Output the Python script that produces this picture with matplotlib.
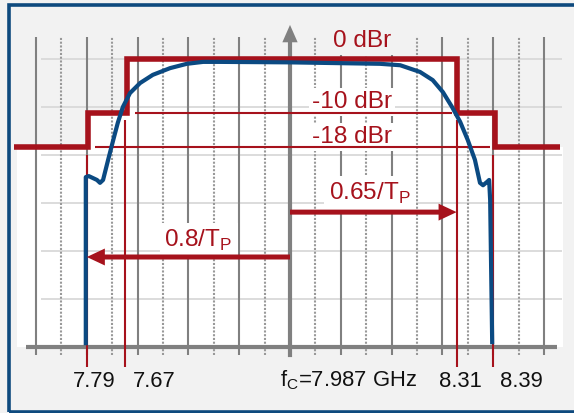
import numpy as np
import matplotlib
matplotlib.use("Agg")
from matplotlib import pyplot as plt
from matplotlib import font_manager
from matplotlib.patches import FancyArrowPatch, Rectangle, ArrowStyle

# pick a narrow sans like the original, fall back if it is missing
installed = {f.name for f in font_manager.fontManager.ttflist}
if "Liberation Sans Narrow" in installed:
    FONT, SCALE = "Liberation Sans Narrow", 1.0
else:
    FONT, SCALE = "Liberation Sans", 0.88
plt.rcParams["font.family"] = [FONT, "DejaVu Sans"]
plt.rcParams["mathtext.fontset"] = "custom"
plt.rcParams["mathtext.rm"] = FONT

RED = "#a6121c"
BLUE = "#0b4a82"
GRAY = "#808080"
BG = "#f2f2f2"

# x in grid divisions from f_C, y in grid rows above the axis
grid_major = np.arange(-5, 6)
grid_minor = np.arange(-4.5, 5, 1.0)
grid_rows = np.arange(1, 7)

# spectral mask (0 / -10 / -18 dBr)
mask_edges = [-5.43, -3.97, -3.2, 3.28, 4.03, 5.31]
mask_levels = [4.16, 4.88, 6.0, 4.88, 4.16]
fill_edges = [-5.37, -3.97, -3.2, 3.28, 4.03, 5.37]

# dBr labels
dbr_labels = ["0 dBr", "-10 dBr", "-18 dBr"]
dbr_x = [1.42, 1.22, 1.22]
dbr_y = [6.25, 4.98, 4.25]
ref_levels = [4.88, 4.16]
ref_x0 = [-3.05, -3.84]
ref_x1 = [3.19, 3.94]

# frequency markers
marker_x = [-4.0, -3.24, 3.28, 4.0]
marker_top = [4.0, 4.73, 4.73, 4.0]
tick_labels = ["7.79", "7.67", r"f$_\mathrm{C}$=7.987 GHz", "8.31", "8.39"]
tick_x = [-3.85, -2.68, 1.16, 3.35, 4.56]

# measured spectrum
spec_x = [-4.02, -4.02, -3.96, -3.88, -3.80, -3.74, -3.68, -3.58, -3.48, -3.39,
          -3.29, -3.15, -2.95, -2.70, -2.36, -2.03, -1.71, -1.38, 0.0, 1.77,
          2.17, 2.56, 2.81, 3.01, 3.19, 3.35, 3.50, 3.64, 3.74, 3.80,
          3.88, 3.92, 3.94, 3.98]
spec_y = [0.08, 3.54, 3.56, 3.52, 3.48, 3.42, 3.48, 3.90, 4.31, 4.67,
          5.00, 5.29, 5.50, 5.67, 5.81, 5.90, 5.94, 5.94, 5.93, 5.90,
          5.87, 5.73, 5.56, 5.31, 5.00, 4.69, 4.31, 3.90, 3.42, 3.37,
          3.44, 3.48, 3.06, 0.10]

# bandwidth arrows
bw_labels = [r"0.65/T$_\mathrm{P}$", r"0.8/T$_\mathrm{P}$"]
bw_end = [3.28, -4.0]
bw_y = [2.81, 1.875]
bw_label_x = [1.58, -1.80]
bw_label_y = [3.06, 2.08]

fig = plt.figure(figsize=(5.74, 4.13), dpi=100, facecolor=BG)
ax = fig.add_axes([0, 0, 1, 1])
ax.set_xlim(-290 / 50.8, 284 / 50.8)
ax.set_ylim(-66 / 48, 347 / 48)
ax.axis("off")

ax.stairs(mask_levels, fill_edges, baseline=0, fill=True, color="white", zorder=1)

ax.hlines(grid_rows, -4.9, 5.35, color="#d9d9d9", lw=1.3, zorder=2)
ax.vlines(grid_major, -0.17, 6.46, color=GRAY, lw=1.5, zorder=2)
ax.vlines(grid_minor, -0.17, 6.46, color="#999999", lw=1.5,
          linestyles=[(0, (1.0, 0.8))], zorder=2)
ax.hlines(0, -5.2, 5.26, color=GRAY, lw=3, zorder=3)
ax.add_patch(FancyArrowPatch((0, -0.21), (0, 6.71), shrinkA=0, shrinkB=0,
                             arrowstyle=ArrowStyle.Simple(head_length=1.25, head_width=1.1, tail_width=0.3),
                             mutation_scale=10, color=GRAY, lw=0, zorder=3))

txt = dict(color=RED, fontsize=20 * SCALE, ha="center", va="baseline", zorder=3.5)
for lab, x, y in zip(dbr_labels, dbr_x, dbr_y):
    fc = BG if lab == "0 dBr" else "white"
    ax.text(x, y, lab, bbox=dict(boxstyle="square,pad=0.12", fc=fc, ec="none"), **txt)
for lab, x, y in zip(bw_labels, bw_label_x, bw_label_y):
    ax.text(x, y, lab, bbox=dict(boxstyle="square,pad=0.2", fc="white", ec="none"), **txt)

ax.hlines(ref_levels, ref_x0, ref_x1, color=RED, lw=1.5, zorder=4)
ax.vlines(marker_x, -0.42, marker_top, color=RED, lw=1.5, zorder=4)
ax.stairs(mask_levels, mask_edges, baseline=None, color=RED, lw=4, zorder=5)
ax.plot(spec_x, spec_y, color=BLUE, lw=3, solid_joinstyle="round", zorder=6)

for xe, y in zip(bw_end, bw_y):
    ax.add_patch(FancyArrowPatch((0, y), (xe, y), shrinkA=0, shrinkB=0,
                                 arrowstyle=ArrowStyle.Simple(head_length=1.3, head_width=1.22, tail_width=0.36),
                                 mutation_scale=10, color=RED, lw=0, zorder=7))

for lab, x in zip(tick_labels, tick_x):
    ax.text(x, -0.83, lab, color="#111111", fontsize=18 * SCALE, ha="center", va="baseline")

ax.add_patch(Rectangle((9 / 574, 1.5 / 413), 1.05, 1 - 6.5 / 413, transform=ax.transAxes,
                       fill=False, ec="#0e4a7e", lw=2.6, clip_on=False, zorder=10))

fig.savefig("out.png", dpi=100, facecolor=BG)
